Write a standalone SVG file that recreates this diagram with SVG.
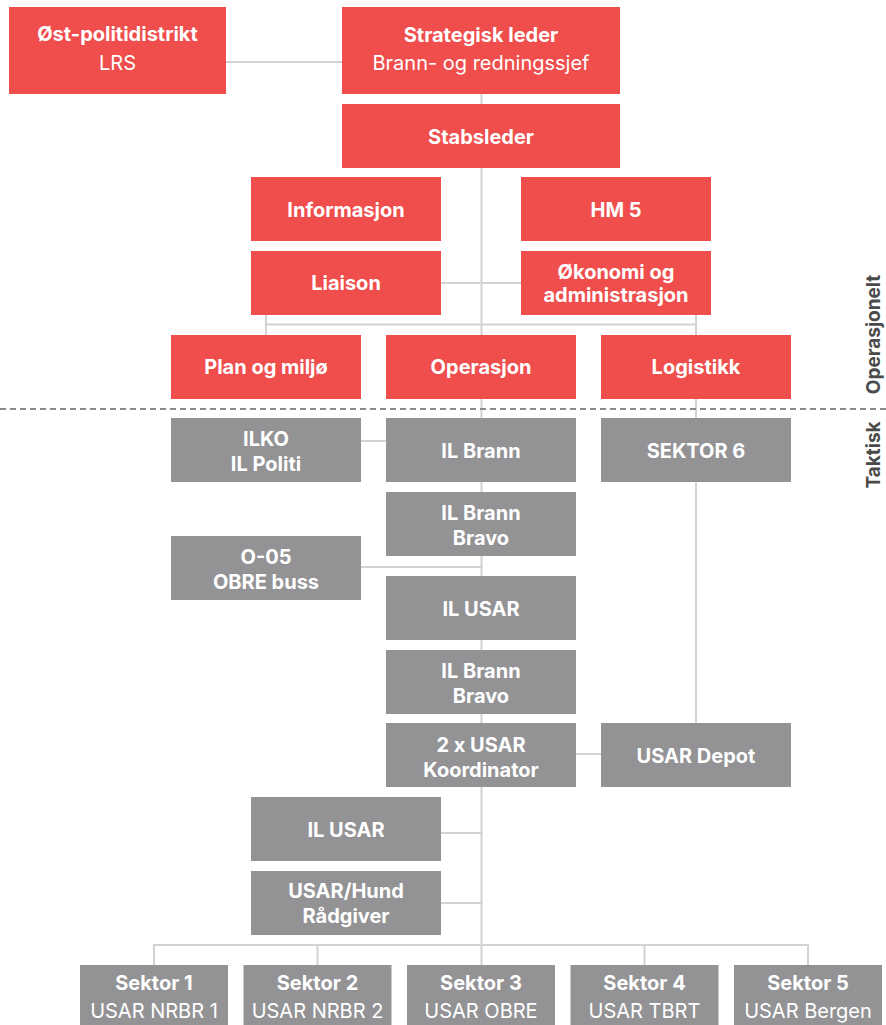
<svg xmlns="http://www.w3.org/2000/svg" width="886" height="1025" viewBox="0 0 886 1025">
<style>
.r{fill:#EF4E4D}
.g{fill:#939396}
.t{font-family:Inter,"Liberation Sans",Arial,sans-serif;font-size:20px;fill:#fff;text-anchor:middle}
.b{font-weight:700}
.n{font-weight:400}
.c{stroke:#D2D2D2;stroke-width:2;fill:none}
.side{font-family:Inter,"Liberation Sans",Arial,sans-serif;font-size:19px;font-weight:700;fill:#4A4A4A;text-anchor:middle}
</style>
<rect width="886" height="1025" fill="#fff"/>
<g id="connectors">
<path class="c" d="M226 62H342"/>
<path class="c" d="M481.5 94V965"/>
<path class="c" d="M441 283H521"/>
<path class="c" d="M266 315V335M266 324.5H696M696 315V335"/>
<path class="c" d="M696 399V723"/>
<path class="c" d="M361 441H386"/>
<path class="c" d="M361 567H481.5"/>
<path class="c" d="M576 754H601"/>
<path class="c" d="M441 833H481.5"/>
<path class="c" d="M441 903H481.5"/>
<path class="c" d="M154 965V945H808V965M317.5 945V965M644.5 945V965"/>
</g>
<g id="divider">
<path d="M0 409H886" stroke="#8A8A8A" stroke-width="2" stroke-dasharray="6 4"/>
<text class="side" transform="translate(880 334.5) rotate(-90)">Operasjonelt</text>
<text class="side" transform="translate(880 455) rotate(-90)">Taktisk</text>
</g>
<g id="ost"><rect class="r" x="9" y="7" width="217" height="87"/><text class="t b" x="117.5" y="41">Øst-politidistrikt</text><text class="t n" x="117.5" y="70">LRS</text></g>
<g id="strategisk"><rect class="r" x="342" y="7" width="278" height="87"/><text class="t b" x="481" y="42">Strategisk leder</text><text class="t n" x="481" y="70">Brann- og redningssjef</text></g>
<g id="stabsleder"><rect class="r" x="342" y="104" width="278" height="64"/><text class="t b" x="481" y="144">Stabsleder</text></g>
<g id="informasjon"><rect class="r" x="251" y="177" width="190" height="64"/><text class="t b" x="346" y="217">Informasjon</text></g>
<g id="hm5"><rect class="r" x="521" y="177" width="190" height="64"/><text class="t b" x="616" y="217">HM 5</text></g>
<g id="liaison"><rect class="r" x="251" y="251" width="190" height="64"/><text class="t b" x="346" y="290">Liaison</text></g>
<g id="okonomi"><rect class="r" x="521" y="251" width="190" height="64"/><text class="t b" x="616" y="279">Økonomi og</text><text class="t b" x="616" y="302">administrasjon</text></g>
<g id="plan"><rect class="r" x="171" y="335" width="190" height="64"/><text class="t b" x="266" y="374">Plan og miljø</text></g>
<g id="operasjon"><rect class="r" x="386" y="335" width="190" height="64"/><text class="t b" x="481" y="374">Operasjon</text></g>
<g id="logistikk"><rect class="r" x="601" y="335" width="190" height="64"/><text class="t b" x="696" y="374">Logistikk</text></g>
<g id="ilko"><rect class="g" x="171" y="418" width="190" height="64"/><text class="t b" x="266" y="446">ILKO</text><text class="t b" x="266" y="471">IL Politi</text></g>
<g id="ilbrann"><rect class="g" x="386" y="418" width="190" height="64"/><text class="t b" x="481" y="458">IL Brann</text></g>
<g id="sektor6"><rect class="g" x="601" y="418" width="190" height="64"/><text class="t b" x="696" y="458">SEKTOR 6</text></g>
<g id="ilbrannbravo1"><rect class="g" x="386" y="492" width="190" height="64"/><text class="t b" x="481" y="520">IL Brann</text><text class="t b" x="481" y="545">Bravo</text></g>
<g id="o05"><rect class="g" x="171" y="536" width="190" height="64"/><text class="t b" x="266" y="564">O-05</text><text class="t b" x="266" y="589">OBRE buss</text></g>
<g id="ilusar1"><rect class="g" x="386" y="576" width="190" height="64"/><text class="t b" x="481" y="616">IL USAR</text></g>
<g id="ilbrannbravo2"><rect class="g" x="386" y="650" width="190" height="64"/><text class="t b" x="481" y="678">IL Brann</text><text class="t b" x="481" y="703">Bravo</text></g>
<g id="koordinator"><rect class="g" x="386" y="723" width="190" height="64"/><text class="t b" x="481" y="752">2 x USAR</text><text class="t b" x="481" y="777">Koordinator</text></g>
<g id="usardepot"><rect class="g" x="601" y="723" width="190" height="64"/><text class="t b" x="696" y="763">USAR Depot</text></g>
<g id="ilusar2"><rect class="g" x="251" y="797" width="190" height="64"/><text class="t b" x="346" y="837">IL USAR</text></g>
<g id="hund"><rect class="g" x="251" y="871" width="190" height="64"/><text class="t b" x="346" y="898">USAR/Hund</text><text class="t b" x="346" y="923">Rådgiver</text></g>
<g id="sektor1"><rect class="g" x="80" y="965" width="148" height="60"/><text class="t b" x="154" y="990">Sektor 1</text><text class="t n" x="154" y="1018">USAR NRBR 1</text></g>
<g id="sektor2"><rect class="g" x="243.5" y="965" width="148" height="60"/><text class="t b" x="317.5" y="990">Sektor 2</text><text class="t n" x="317.5" y="1018">USAR NRBR 2</text></g>
<g id="sektor3"><rect class="g" x="407" y="965" width="148" height="60"/><text class="t b" x="481" y="990">Sektor 3</text><text class="t n" x="481" y="1018">USAR OBRE</text></g>
<g id="sektor4"><rect class="g" x="570.5" y="965" width="148" height="60"/><text class="t b" x="644.5" y="990">Sektor 4</text><text class="t n" x="644.5" y="1018">USAR TBRT</text></g>
<g id="sektor5"><rect class="g" x="734" y="965" width="148" height="60"/><text class="t b" x="808" y="990">Sektor 5</text><text class="t n" x="808" y="1018">USAR Bergen</text></g>
</svg>
